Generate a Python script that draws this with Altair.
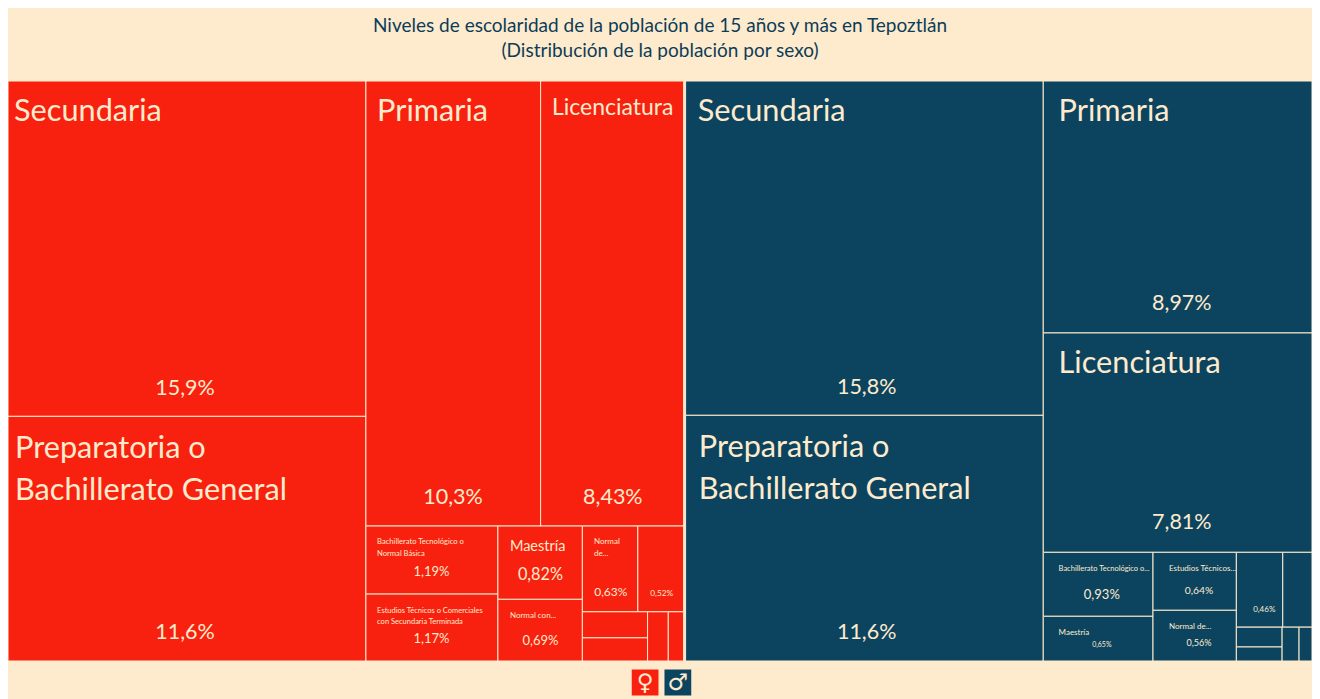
import altair as alt
import pandas as pd

TITLE = ["Niveles de escolaridad de la población de 15 años y más en Tepoztlán",
         "(Distribución de la población por sexo)"]
SEXES = ["Mujeres", "Hombres"]
SYMBOLS = ["♀", "♂"]
COLORS = ["#F8210F", "#0C4460"]
CREAM = "#FEEBCD"
FONT = "Lato"

# name lines, printed percentage, share used for the area
f_names = [["Secundaria"], ["Preparatoria o", "Bachillerato General"], ["Primaria"], ["Licenciatura"],
           ["Bachillerato Tecnológico o", "Normal Básica"],
           ["Estudios Técnicos o Comerciales", "con Secundaria Terminada"],
           ["Maestría"], ["Normal con..."], ["Normal", "de..."], [], [], [], [], []]
f_pct = ["15,9%", "11,6%", "10,3%", "8,43%", "1,19%", "1,17%", "0,82%", "0,69%", "0,63%", "0,52%", "", "", "", ""]
f_val = [15.9, 11.6, 10.3, 8.43, 1.19, 1.17, 0.82, 0.69, 0.63, 0.52, 0.225, 0.20, 0.135, 0.10]

m_names = [["Secundaria"], ["Preparatoria o", "Bachillerato General"], ["Primaria"], ["Licenciatura"],
           ["Bachillerato Tecnológico o..."], ["Maestría"], ["Estudios Técnicos..."], ["Normal de..."],
           [], [], [], [], [], []]
m_pct = ["15,8%", "11,6%", "8,97%", "7,81%", "0,93%", "0,65%", "0,64%", "0,56%", "0,46%", "", "", "", "", ""]
m_val = [15.84, 11.64, 8.97, 7.81, 0.93, 0.65, 0.64, 0.56, 0.46, 0.29, 0.12, 0.085, 0.076, 0.058]

# how each panel is cut: "h" places children side by side, "v" stacks them
f_tree = ("h", [("v", [0, 1]),
                ("v", [("h", [2, 3]),
                       ("h", [("v", [4, 5]), ("v", [6, 7]),
                              ("v", [("h", [8, 9]),
                                     ("h", [("v", [10, 11]), 12, 13])])])])])
m_tree = ("h", [("v", [0, 1]),
                ("v", [2, 3,
                       ("h", [("v", [4, 5]), ("v", [6, 7]),
                              ("v", [("h", [8, 9]),
                                     ("h", [("v", [10, 11]), 12, 13])])])])])

# label styles per cell: name size, left pad, first line offset, line gap, pct size, pct offset from bottom
f_style = [(30.7, 9, 31, 0, 21.5, 27), (30.7, 10, 33, 42, 21.5, 28), (30.7, 12, 31, 0, 21.5, 28), (23, 11, 27, 0, 21.5, 28),
           (7.6, 12, 16, 12, 13, 22), (7.5, 12, 17, 11, 13, 22), (14.5, 12, 21, 0, 16.3, 24), (8, 12, 17, 0, 13, 20),
           (8, 11, 16, 12, 12, 20), (8, 0, 0, 0, 8.3, 18)] + [(8, 0, 0, 0, 8, 0)] * 4
m_style = [(30.7, 11, 31, 0, 21.5, 27), (30.7, 12, 33, 42, 21.5, 28), (30.7, 12, 31, 0, 21.5, 29), (30.7, 12, 31, 0, 21.5, 29),
           (7.5, 12, 17, 0, 13, 21), (8, 12, 17, 0, 7, 16), (8, 12, 17, 0, 10.3, 19), (8, 12, 17, 0, 9, 18),
           (8, 0, 0, 0, 8, 17)] + [(8, 0, 0, 0, 8, 0)] * 5

FULL_W, FULL_H, GAP = 1312, 580, 2


def total(node, vals):
    if isinstance(node, int):
        return vals[node]
    return sum(total(c, vals) for c in node[1])


def place(node, vals, x0, y0, x1, y1, out):
    if isinstance(node, int):
        out[node] = (x0, y0, x1, y1)
        return
    sum_all = total(node, vals)
    pos = x0 if node[0] == "h" else y0
    for c in node[1]:
        share = total(c, vals) / sum_all
        if node[0] == "h":
            nxt = pos + share * (x1 - x0)
            place(c, vals, pos, y0, nxt, y1, out)
        else:
            nxt = pos + share * (y1 - y0)
            place(c, vals, x0, pos, x1, nxt, out)
        pos = nxt


sum_f, sum_m = sum(f_val), sum(m_val)
split = (FULL_W - GAP) * sum_f / (sum_f + sum_m)
panels = [(SEXES[0], f_tree, f_val, f_names, f_pct, f_style, 0, split),
          (SEXES[1], m_tree, m_val, m_names, m_pct, m_style, split + GAP, FULL_W)]

cells, labels = [], []
for sex, tree, vals, names, pcts, styles, px0, px1 in panels:
    boxes = {}
    place(tree, vals, px0, 0, px1, FULL_H, boxes)
    for i, (x0, y0, x1, y1) in boxes.items():
        cells.append(dict(sexo=sex, x=x0, x2=x1, y=y0, y2=y1))
        nsize, pad, off, gap, psize, poff = styles[i]
        for k, line in enumerate(names[i]):
            labels.append(dict(t=line, x=x0 + pad, y=y0 + off + k * gap, s=nsize, a="left"))
        if pcts[i]:
            labels.append(dict(t=pcts[i], x=(x0 + x1) / 2, y=y1 - poff, s=psize, a="center"))

cells = pd.DataFrame(cells)
labels = pd.DataFrame(labels)
icons = pd.DataFrame(dict(sexo=SEXES, sym=SYMBOLS,
                          x=[627.0, 660.0], x2=[655.0, 688.0],
                          y=[FULL_H + 8.0] * 2, y2=[FULL_H + 35.0] * 2))
icons["cx"] = (icons.x + icons.x2) / 2
icons["cy"] = (icons.y + icons.y2) / 2

W, H = 1304, FULL_H
xs = alt.Scale(domain=[0, FULL_W], range=[0, W])
xt = alt.Scale(domain=[0, FULL_W], range=[-3, FULL_W - 3])  # labels keep the reference's spacing
ys = alt.Scale(domain=[0, H], range=[0, H])
X = alt.X("x:Q", scale=xs, axis=None)
XT = alt.X("x:Q", scale=xt, axis=None)
Y = alt.Y("y:Q", scale=ys, axis=None)
col = alt.Color("sexo:N", scale=alt.Scale(domain=SEXES, range=COLORS), legend=None)

rects = alt.Chart(cells).mark_rect(stroke=CREAM, strokeWidth=1).encode(
    x=X, x2="x2:Q", y=Y, y2="y2:Q", color=col)
left = alt.Chart(labels[labels.a == "left"]).mark_text(
    font=FONT, color=CREAM, align="left", baseline="middle").encode(
    x=XT, y=Y, text="t:N", size=alt.Size("s:Q", scale=None, legend=None))
mid = alt.Chart(labels[labels.a == "center"]).mark_text(
    font=FONT, color=CREAM, align="center", baseline="middle").encode(
    x=XT, y=Y, text="t:N", size=alt.Size("s:Q", scale=None, legend=None))
icon_box = alt.Chart(icons).mark_rect(stroke=CREAM, strokeWidth=1).encode(
    x=X, x2="x2:Q", y=Y, y2="y2:Q", color=col)
icon_sym = alt.Chart(icons).mark_text(
    font="DejaVu Sans", fontSize=23, fontWeight="bold", color=CREAM, align="center", baseline="middle").encode(
    x=alt.X("cx:Q", scale=xs, axis=None), y=alt.Y("cy:Q", scale=ys, axis=None), text="sym:N")

chart = (alt.layer(rects, icon_box, icon_sym).resolve_scale(x="shared")
         + alt.layer(left, mid)).resolve_scale(x="independent").properties(
    width=W, height=H,
    background=CREAM,
    padding={"left": 0, "top": 73, "right": 0, "bottom": 38},
    autosize=alt.AutoSizeParams(type="none"),
    title=alt.TitleParams(text=TITLE, font=FONT, fontSize=19, fontWeight="normal",
                          color="#0C3C58", anchor="middle", frame="group",
                          lineHeight=25, offset=20),
).configure_view(stroke=None)

chart.save("out.html", embed_options={"renderer": "svg", "actions": False})
